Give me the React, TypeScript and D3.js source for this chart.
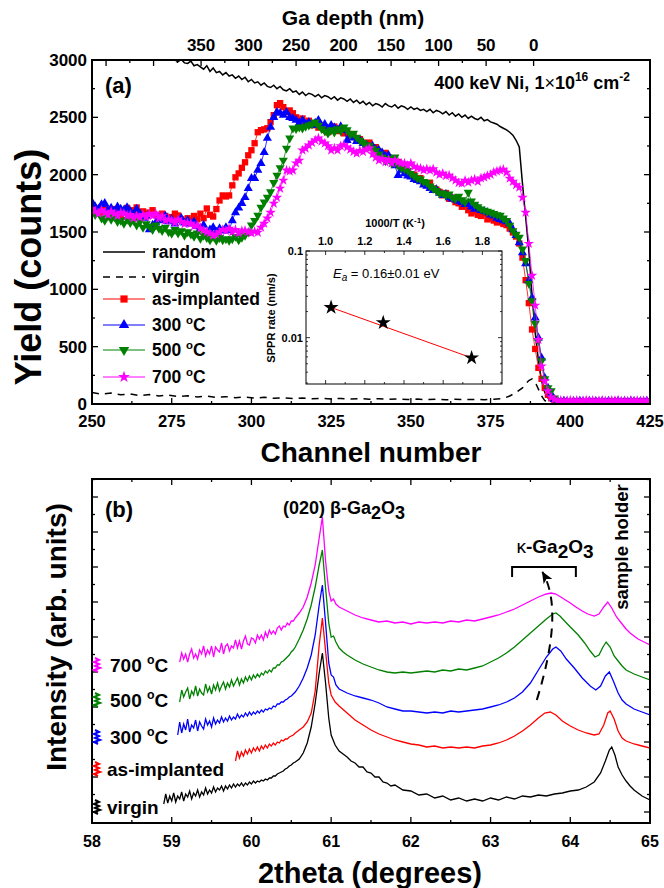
import React from "react";
import * as d3 from "d3";

const FONT = "'Liberation Sans', Arial, Helvetica, sans-serif";

// ---------------- Panel (a): RBS spectra ----------------
const CHANNEL_START = 250;
const channelTicks = [250, 275, 300, 325, 350, 375, 400, 425];
const yieldTicks = [0, 500, 1000, 1500, 2000, 2500, 3000];
const depthTicks = [0, 50, 100, 150, 200, 250, 300, 350];
const DEPTH_AT_250 = 464.8;
const DEPTH_AT_425 = -122.5;

const randomYield = [
  3180, 3170, 3160, 3170, 3150, 3140, 3150, 3130, 3120, 3130,
  3110, 3100, 3110, 3090, 3080, 3090, 3070, 3060, 3070, 3050,
  3040, 3050, 3030, 3020, 3030, 3010, 3000, 2985, 3005, 2975,
  2970, 2990, 2950, 2960, 2940, 2920, 2950, 2900, 2930, 2890,
  2900, 2870, 2890, 2860, 2870, 2840, 2860, 2830, 2850, 2810,
  2830, 2800, 2810, 2780, 2800, 2770, 2760, 2780, 2750, 2770,
  2740, 2730, 2750, 2720, 2730, 2700, 2720, 2690, 2710, 2700,
  2680, 2700, 2670, 2690, 2680, 2660, 2680, 2650, 2670, 2660,
  2640, 2660, 2630, 2650, 2620, 2640, 2610, 2630, 2600, 2620,
  2610, 2590, 2620, 2600, 2590, 2610, 2580, 2600, 2590, 2570,
  2590, 2570, 2580, 2560, 2570, 2550, 2570, 2540, 2560, 2550,
  2530, 2550, 2520, 2540, 2510, 2530, 2500, 2520, 2490, 2510,
  2490, 2480, 2500, 2470, 2480, 2460, 2450, 2440, 2420, 2405,
  2390, 2370, 2344, 2300, 2242, 1924, 1630, 1338, 950, 620,
  380, 200, 100, 52, 25, 12, 8, 6, 5, 5,
  5, 4, 5, 4, 5, 4, 5, 4, 5, 4,
  5, 4, 5, 4, 5, 4, 5, 4, 5, 4,
  5, 4, 5, 4, 5, 4,
];

const virginChannel = [
  250, 253, 256, 259, 262, 265, 268, 271, 274, 277, 280, 283, 286, 289, 292, 295, 298, 301, 304, 307,
  310, 313, 316, 319, 322, 325, 328, 331, 334, 337, 340, 343, 346, 349, 352, 355, 358, 361, 364, 367,
  370, 373, 376, 379, 381, 383, 385, 386, 387, 388, 389, 390, 391, 392, 394, 397, 400, 410, 425,
];
const virginYield = [
  100, 85, 95, 80, 88, 72, 82, 70, 78, 66, 72, 62, 68, 58, 64, 55, 60, 52, 58, 50,
  55, 48, 53, 46, 50, 44, 49, 43, 47, 42, 46, 40, 44, 39, 43, 38, 42, 37, 41, 38,
  40, 37, 42, 48, 70, 100, 140, 175, 205, 219, 190, 130, 70, 30, 10, 5, 4, 3, 3,
];

const asImplanted = [
  1720, 1690, 1700, 1670, 1710, 1680, 1660, 1700, 1690, 1650,
  1680, 1710, 1670, 1690, 1714, 1660, 1680, 1640, 1670, 1690,
  1650, 1620, 1660, 1640, 1600, 1630, 1660, 1644, 1610, 1590,
  1620, 1600, 1640, 1610, 1660, 1620, 1705, 1650, 1635, 1700,
  1775, 1819, 1810, 1819, 1907, 1977, 2011, 2060, 2108, 2169,
  2213, 2274, 2370, 2388, 2395, 2405, 2458, 2519, 2606, 2624,
  2589, 2545, 2560, 2536, 2500, 2470, 2490, 2450, 2470, 2431,
  2440, 2410, 2430, 2390, 2370, 2400, 2420, 2380, 2400, 2360,
  2370, 2330, 2340, 2300, 2310, 2280, 2260, 2280, 2230, 2240,
  2200, 2180, 2190, 2150, 2140, 2100, 2110, 2060, 2080, 2020,
  1990, 2000, 1960, 1970, 1920, 1910, 1930, 1880, 1870, 1850,
  1820, 1840, 1790, 1800, 1760, 1750, 1720, 1740, 1690, 1662,
  1680, 1650, 1640, 1660, 1610, 1620, 1600, 1583, 1590, 1570,
  1560, 1530, 1496, 1460, 1400, 1277, 1080, 880, 650, 480,
  315, 220, 140, 80, 50, 30, 22, 18, 25, 20,
  15, 22, 18, 25, 20, 16, 22, 18, 24, 20,
  17, 22, 19, 25, 18, 21, 16, 23, 19, 22,
  18, 24, 20, 17, 22, 19,
];

const annealed300 = [
  1760, 1720, 1700, 1740, 1750, 1690, 1710, 1680, 1720, 1700,
  1690, 1714, 1680, 1650, 1700, 1660, 1620, 1640, 1520, 1560,
  1580, 1620, 1600, 1640, 1590, 1610, 1570, 1600, 1620, 1580,
  1600, 1570, 1590, 1550, 1530, 1560, 1487, 1520, 1540, 1500,
  1530, 1510, 1540, 1513, 1600, 1670, 1710, 1750, 1801, 1880,
  1968, 1968, 2040, 2099, 2195, 2318, 2414, 2500, 2545, 2536,
  2519, 2545, 2500, 2490, 2475, 2450, 2475, 2440, 2458, 2430,
  2450, 2475, 2420, 2440, 2400, 2430, 2410, 2390, 2420, 2388,
  2300, 2340, 2320, 2290, 2300, 2274, 2260, 2240, 2250, 2220,
  2213, 2190, 2160, 2170, 2120, 2080, 1994, 2040, 2010, 1990,
  1980, 1960, 1950, 1940, 1910, 1900, 1880, 1863, 1870, 1840,
  1820, 1830, 1800, 1790, 1780, 1770, 1758, 1740, 1750, 1720,
  1700, 1710, 1688, 1680, 1670, 1650, 1640, 1620, 1610, 1600,
  1590, 1574, 1520, 1470, 1408, 1320, 1224, 1076, 927, 752,
  577, 402, 227, 140, 87, 40, 28, 20, 26, 22,
  18, 24, 20, 27, 22, 18, 25, 20, 23, 19,
  24, 20, 26, 18, 22, 25, 19, 23, 20, 26,
  21, 18, 24, 20, 25, 22,
];

const annealed500 = [
  1688, 1650, 1670, 1620, 1600, 1640, 1610, 1630, 1590, 1600,
  1574, 1610, 1580, 1600, 1560, 1590, 1539, 1570, 1550, 1520,
  1560, 1530, 1510, 1540, 1500, 1487, 1520, 1490, 1510, 1470,
  1500, 1480, 1460, 1490, 1443, 1470, 1450, 1430, 1460, 1425,
  1450, 1430, 1440, 1425, 1440, 1460, 1430, 1452, 1470, 1500,
  1560, 1600, 1644, 1714, 1760, 1801, 1850, 1930, 1994, 2060,
  2125, 2230, 2318, 2405, 2400, 2414, 2405, 2420, 2431, 2440,
  2458, 2430, 2400, 2380, 2361, 2390, 2370, 2400, 2380, 2414,
  2390, 2350, 2360, 2326, 2300, 2280, 2260, 2250, 2230, 2210,
  2180, 2152, 2120, 2140, 2100, 2152, 2080, 2060, 2050, 2038,
  2010, 1990, 1970, 1960, 1940, 1930, 1900, 1880, 1860, 1836,
  1840, 1820, 1830, 1800, 1790, 1810, 1780, 1760, 1845, 1770,
  1740, 1720, 1700, 1688, 1680, 1670, 1660, 1650, 1644, 1620,
  1600, 1557, 1510, 1480, 1452, 1350, 1250, 1050, 900, 700,
  551, 376, 219, 140, 114, 52, 25, 12, 8, 10,
  6, 9, 5, 8, 11, 6, 4, 9, 7, 5,
  8, 10, 6, 4, 9, 7, 5, 8, 6, 10,
  7, 5, 9, 6, 8, 5,
];

const annealed700 = [
  1705, 1680, 1660, 1690, 1670, 1650, 1680, 1660, 1640, 1670,
  1662, 1640, 1650, 1620, 1640, 1627, 1650, 1630, 1660, 1640,
  1662, 1620, 1640, 1600, 1610, 1600, 1580, 1610, 1590, 1570,
  1580, 1574, 1550, 1560, 1530, 1513, 1500, 1490, 1469, 1480,
  1500, 1520, 1510, 1531, 1500, 1520, 1490, 1510, 1513, 1500,
  1490, 1505, 1496, 1540, 1574, 1620, 1670, 1749, 1801, 1880,
  1950, 2038, 2030, 2038, 2100, 2125, 2213, 2230, 2256, 2280,
  2300, 2318, 2290, 2274, 2250, 2213, 2230, 2213, 2250, 2260,
  2239, 2220, 2200, 2186, 2210, 2200, 2220, 2230, 2180, 2150,
  2125, 2140, 2110, 2130, 2100, 2125, 2110, 2100, 2099, 2080,
  2099, 2070, 2060, 2055, 2040, 2050, 2038, 2050, 2020, 2000,
  2010, 1990, 1994, 1970, 1950, 1930, 1924, 1950, 1933, 1950,
  1960, 1940, 1970, 1977, 1990, 2000, 2020, 2030, 2038, 2045,
  2020, 1968, 1940, 1910, 1889, 1801, 1670, 1399, 1120, 860,
  560, 330, 200, 114, 60, 40, 26, 30, 24, 28,
  32, 26, 30, 24, 28, 33, 27, 30, 25, 29,
  31, 27, 24, 30, 28, 32, 26, 29, 25, 31,
  27, 30, 24, 28, 26, 30,
];

// Inset: Arrhenius plot
const inverseT = [1.028, 1.294, 1.745];
const spprRate = [0.0223, 0.0149, 0.00585];
const fitInverseT = [1.028, 1.745];
const fitRate = [0.0223, 0.00585];
const insetMajorX = [1.0, 1.2, 1.4, 1.6, 1.8];
const insetMinorX = [1.1, 1.3, 1.5, 1.7];
const insetMajorY = [0.01, 0.1];
const insetMinorY = [0.003, 0.004, 0.005, 0.006, 0.007, 0.008, 0.009, 0.02, 0.03, 0.04, 0.05, 0.06, 0.07, 0.08, 0.09];

// ---------------- Panel (b): XRD ----------------
const twoThetaTicks = [58, 59, 60, 61, 62, 63, 64, 65];
const intensityTicks = [11, 46, 81, 116, 151, 186, 221, 256, 291, 326];

const xrdVirgin: [number, number][] = [
  [58.900, 19], [58.925, 29], [58.950, 20], [58.975, 27], [59.000, 22], [59.025, 30], [59.050, 21], [59.075, 27], [59.100, 24], [59.125, 31],
  [59.150, 22], [59.175, 29], [59.200, 26], [59.225, 32], [59.250, 24], [59.275, 30], [59.300, 27], [59.325, 33], [59.350, 26], [59.375, 31],
  [59.400, 28], [59.425, 35], [59.450, 29], [59.475, 33], [59.500, 30], [59.525, 36], [59.550, 31], [59.575, 35], [59.600, 33], [59.625, 37],
  [59.650, 32], [59.675, 37], [59.700, 34], [59.725, 38], [59.750, 35], [59.775, 39], [59.800, 36], [59.825, 39], [59.850, 37], [59.875, 40],
  [59.900, 37], [59.925, 40], [59.950, 38], [59.975, 41], [60.000, 39], [60.025, 42], [60.050, 40], [60.075, 42], [60.100, 41], [60.125, 43],
  [60.150, 42], [60.175, 44], [60.200, 43], [60.225, 45], [60.250, 45], [60.275, 47], [60.300, 47], [60.325, 49], [60.350, 50], [60.375, 51],
  [60.400, 52], [60.425, 54], [60.450, 55], [60.475, 57], [60.500, 58], [60.525, 60], [60.550, 61],
  [60.60, 64], [60.65, 70], [60.70, 80], [60.75, 96], [60.80, 120], [60.85, 150], [60.89, 170], [60.93, 140], [60.97, 105], [61.00, 88],
  [61.05, 78], [61.10, 72], [61.15, 69], [61.20, 66], [61.25, 62], [61.30, 60], [61.35, 56], [61.40, 56], [61.45, 51], [61.50, 50],
  [61.55, 46], [61.60, 46], [61.65, 41], [61.70, 40], [61.75, 37], [61.80, 38], [61.90, 33], [62.00, 32], [62.10, 28], [62.20, 29],
  [62.30, 25], [62.40, 27], [62.50, 23], [62.60, 25], [62.70, 22], [62.80, 24], [62.90, 22], [63.00, 25], [63.10, 23], [63.20, 26],
  [63.30, 24], [63.40, 27], [63.50, 26], [63.60, 28], [63.70, 27], [63.80, 29], [63.90, 30], [64.00, 32], [64.10, 33], [64.20, 36],
  [64.30, 41], [64.38, 50], [64.44, 62], [64.49, 73], [64.52, 76], [64.56, 68], [64.60, 56], [64.65, 48], [64.70, 42], [64.75, 37],
  [64.80, 33], [64.85, 30], [64.90, 27], [64.95, 25], [65.00, 23],
];

const xrdAsImplanted: [number, number][] = [
  [59.800, 62], [59.825, 72], [59.850, 65], [59.875, 71], [59.900, 67], [59.925, 73], [59.950, 69], [59.975, 74], [60.000, 70], [60.025, 75],
  [60.050, 72], [60.075, 76], [60.100, 72], [60.125, 77], [60.150, 74], [60.175, 78], [60.200, 75], [60.225, 79], [60.250, 77], [60.275, 80],
  [60.300, 78], [60.325, 81], [60.350, 80], [60.375, 83], [60.400, 82], [60.425, 84], [60.450, 84], [60.475, 86], [60.500, 87], [60.525, 88],
  [60.550, 90],
  [60.60, 93], [60.65, 96], [60.70, 101], [60.75, 110], [60.80, 132], [60.85, 178], [60.89, 205], [60.93, 172], [60.97, 140], [61.00, 128],
  [61.05, 121], [61.10, 117], [61.20, 110], [61.30, 103], [61.40, 98], [61.50, 93], [61.60, 89], [61.70, 86], [61.80, 83], [61.90, 81],
  [62.00, 79], [62.10, 78], [62.20, 76], [62.30, 77], [62.40, 75], [62.50, 76], [62.60, 75], [62.70, 76], [62.80, 75], [62.90, 77],
  [63.00, 78], [63.10, 80], [63.20, 83], [63.30, 87], [63.40, 92], [63.50, 98], [63.60, 105], [63.68, 110], [63.75, 111], [63.82, 108],
  [63.90, 102], [64.00, 97], [64.10, 93], [64.20, 90], [64.30, 88], [64.36, 89], [64.42, 98], [64.47, 110], [64.50, 112], [64.55, 104],
  [64.60, 92], [64.65, 85], [64.70, 82], [64.80, 79], [64.90, 77], [65.00, 75],
];

const xrd300: [number, number][] = [
  [59.075, 88], [59.100, 101], [59.125, 90], [59.150, 99], [59.175, 93], [59.200, 104], [59.225, 91], [59.250, 98], [59.275, 95], [59.300, 103],
  [59.325, 92], [59.350, 101], [59.375, 97], [59.400, 94], [59.425, 104], [59.450, 98], [59.475, 102], [59.500, 96], [59.525, 105], [59.550, 99],
  [59.575, 103], [59.600, 100], [59.625, 106], [59.650, 101], [59.675, 105], [59.700, 102], [59.725, 107], [59.750, 103], [59.775, 106], [59.800, 104],
  [59.825, 109], [59.850, 105], [59.875, 108], [59.900, 106], [59.925, 110], [59.950, 107], [59.975, 111], [60.000, 108], [60.025, 111], [60.050, 109],
  [60.075, 112], [60.100, 110], [60.125, 113], [60.150, 111], [60.175, 114], [60.200, 113], [60.225, 115], [60.250, 114], [60.275, 117], [60.300, 116],
  [60.325, 119], [60.350, 119], [60.375, 121], [60.400, 121], [60.425, 123], [60.450, 124], [60.475, 126], [60.500, 127], [60.525, 129], [60.550, 131],
  [60.60, 137], [60.65, 145], [60.70, 155], [60.75, 168], [60.80, 188], [60.85, 218], [60.89, 238], [60.93, 200], [60.97, 160], [61.00, 148],
  [61.03, 146], [61.06, 138], [61.10, 134], [61.20, 130], [61.30, 127], [61.40, 125], [61.50, 123], [61.60, 120], [61.70, 116], [61.80, 114],
  [61.90, 112], [62.00, 112], [62.10, 111], [62.20, 110], [62.30, 111], [62.40, 110], [62.50, 112], [62.60, 111], [62.70, 112], [62.80, 113],
  [62.90, 114], [63.00, 116], [63.10, 118], [63.20, 121], [63.30, 125], [63.40, 131], [63.50, 140], [63.60, 153], [63.70, 166], [63.78, 174],
  [63.82, 176], [63.88, 172], [63.95, 164], [64.05, 155], [64.15, 145], [64.25, 137], [64.32, 133], [64.38, 137], [64.44, 147], [64.49, 151],
  [64.54, 142], [64.60, 130], [64.65, 123], [64.70, 119], [64.80, 114], [64.90, 111], [65.00, 108],
];

const xrd500: [number, number][] = [
  [59.100, 121], [59.125, 133], [59.150, 126], [59.175, 131], [59.200, 135], [59.225, 124], [59.250, 132], [59.275, 128], [59.300, 137], [59.325, 127],
  [59.350, 134], [59.375, 130], [59.400, 128], [59.425, 139], [59.450, 131], [59.475, 136], [59.500, 129], [59.525, 138], [59.550, 133], [59.575, 140],
  [59.600, 132], [59.625, 137], [59.650, 141], [59.675, 134], [59.700, 140], [59.725, 136], [59.750, 143], [59.775, 137], [59.800, 141], [59.825, 145],
  [59.850, 138], [59.875, 144], [59.900, 140], [59.925, 146], [59.950, 142], [59.975, 147], [60.000, 143], [60.025, 148], [60.050, 145], [60.075, 149],
  [60.100, 146], [60.125, 150], [60.150, 148], [60.175, 152], [60.200, 150], [60.225, 153], [60.250, 151], [60.275, 155], [60.300, 155], [60.325, 158],
  [60.350, 158], [60.375, 161], [60.400, 162], [60.425, 164], [60.450, 166], [60.475, 168], [60.500, 171], [60.525, 173], [60.550, 176],
  [60.60, 184], [60.65, 193], [60.70, 204], [60.75, 218], [60.80, 236], [60.85, 258], [60.89, 273], [60.93, 235], [60.97, 200], [61.00, 186],
  [61.03, 187], [61.06, 181], [61.10, 175], [61.15, 171], [61.20, 168], [61.30, 163], [61.40, 159], [61.50, 156], [61.60, 153], [61.70, 151],
  [61.80, 150], [61.90, 151], [62.00, 150], [62.10, 151], [62.20, 152], [62.30, 151], [62.40, 153], [62.50, 152], [62.60, 154], [62.70, 153],
  [62.80, 155], [62.90, 157], [63.00, 161], [63.10, 165], [63.20, 170], [63.30, 176], [63.40, 183], [63.50, 190], [63.60, 197], [63.70, 204],
  [63.78, 209], [63.82, 210], [63.87, 207], [63.94, 201], [64.00, 196], [64.10, 188], [64.18, 180], [64.25, 172], [64.31, 166], [64.36, 168],
  [64.41, 176], [64.45, 181], [64.50, 176], [64.55, 167], [64.60, 162], [64.65, 157], [64.70, 153], [64.80, 149], [64.90, 146], [65.00, 143],
];

const xrd700: [number, number][] = [
  [59.100, 161], [59.125, 170], [59.150, 164], [59.175, 169], [59.200, 161], [59.225, 169], [59.250, 174], [59.275, 165], [59.300, 169], [59.325, 164],
  [59.350, 173], [59.375, 169], [59.400, 177], [59.425, 167], [59.450, 173], [59.475, 169], [59.500, 177], [59.525, 166], [59.550, 176], [59.575, 173],
  [59.600, 171], [59.625, 180], [59.650, 169], [59.675, 177], [59.700, 179], [59.725, 172], [59.750, 177], [59.775, 175], [59.800, 183], [59.825, 175],
  [59.850, 182], [59.875, 174], [59.900, 182], [59.925, 187], [59.950, 179], [59.975, 178], [60.000, 185], [60.025, 184], [60.050, 180], [60.075, 188],
  [60.100, 184], [60.125, 188], [60.150, 183], [60.175, 191], [60.200, 186], [60.225, 193], [60.250, 189], [60.275, 192], [60.300, 189], [60.325, 195],
  [60.350, 197], [60.375, 193], [60.400, 197], [60.425, 196], [60.450, 200], [60.475, 198], [60.500, 202], [60.525, 202], [60.550, 205],
  [60.60, 210], [60.65, 216], [60.70, 226], [60.75, 240], [60.80, 258], [60.85, 285], [60.89, 306], [60.93, 262], [60.97, 232], [61.00, 222],
  [61.03, 224], [61.06, 219], [61.10, 216], [61.15, 214], [61.20, 212], [61.30, 208], [61.40, 205], [61.50, 203], [61.60, 201], [61.70, 202],
  [61.80, 200], [61.90, 201], [62.00, 199], [62.10, 201], [62.20, 200], [62.30, 201], [62.40, 200], [62.50, 202], [62.60, 201], [62.70, 203],
  [62.80, 202], [62.90, 204], [63.00, 206], [63.10, 208], [63.20, 211], [63.30, 214], [63.40, 218], [63.50, 222], [63.60, 226], [63.70, 229],
  [63.76, 230], [63.82, 229], [63.90, 225], [64.00, 220], [64.07, 216], [64.15, 212], [64.22, 209], [64.30, 207], [64.36, 209], [64.42, 216],
  [64.47, 221], [64.52, 215], [64.58, 206], [64.65, 199], [64.70, 194], [64.75, 190], [64.80, 187], [64.85, 184], [64.90, 182], [64.95, 180],
  [65.00, 178],
];

// annotation positions in data units of panel (b)
const arrowPath: [number, number][] = [[63.58, 123], [63.93, 213], [63.65, 251]];
const bracketX = [63.27, 64.07];
const bracketY = [246, 256];

const RED = "#ff0000";
const BLUE = "#0000ff";
const GREEN = "#008000";
const MAGENTA = "#ff00ff";

function Deg({ label, size }: { label: string; size: number }) {
  return (
    <>
      {label + " "}
      <tspan dy={-size * 0.4} fontSize={size * 0.65}>o</tspan>
      <tspan dy={size * 0.4}>C</tspan>
    </>
  );
}

export default function App() {
  const xA = d3.scaleLinear().domain([250, 425]).range([92, 650]);
  const yA = d3.scaleLinear().domain([0, 3000]).range([404, 60]);
  const xDepth = d3.scaleLinear().domain([DEPTH_AT_250, DEPTH_AT_425]).range([92, 650]);
  const lineIdx = d3
    .line<number>()
    .x((_, i) => xA(CHANNEL_START + i))
    .y((d) => yA(d));
  const virginLine = d3
    .line<number>()
    .x((_, i) => xA(virginChannel[i]))
    .y((d) => yA(d));

  const xI = d3.scaleLinear().domain([0.9, 1.9]).range([306, 502]);
  const yI = d3.scaleLog().domain([0.00292, 0.1]).range([384, 251]);

  const xB = d3.scaleLinear().domain([58, 65]).range([92, 650]);
  const yB = d3.scaleLinear().domain([0, 344]).range([823, 479]);
  const lineB = d3
    .line<[number, number]>()
    .x((d) => xB(d[0]))
    .y((d) => yB(d[1]));

  const series = [
    { name: "as-implanted", values: asImplanted, color: RED, sym: d3.symbolSquare, size: 40, rot: 0 },
    { name: "300", values: annealed300, color: BLUE, sym: d3.symbolTriangle, size: 36, rot: 0 },
    { name: "500", values: annealed500, color: GREEN, sym: d3.symbolTriangle, size: 36, rot: 180 },
    { name: "700", values: annealed700, color: MAGENTA, sym: d3.symbolStar, size: 34, rot: 0 },
  ];

  const chMinor = d3.range(250, 425.01, 12.5);
  const yMinorA = d3.range(0, 3001, 250);
  const depthAll = d3.range(0, 451, 25);
  const bMinorX = d3.range(58, 65.01, 0.5);
  const bMinorY = d3.range(intensityTicks[0], 344, (intensityTicks[1] - intensityTicks[0]) / 2);

  const arrow = d3.path();
  arrow.moveTo(xB(arrowPath[0][0]), yB(arrowPath[0][1]));
  arrow.quadraticCurveTo(xB(arrowPath[1][0]), yB(arrowPath[1][1]), xB(arrowPath[2][0]), yB(arrowPath[2][1]));

  const legA = [
    { y: 252, kind: "solid", label: "random" },
    { y: 277, kind: "dash", label: "virgin" },
  ];
  const legMarkers = [
    { y: 299, s: series[0], label: "as-implanted" },
    { y: 325, s: series[1], label: "300" },
    { y: 350, s: series[2], label: "500" },
    { y: 377, s: series[3], label: "700" },
  ];

  const legB = [
    { y: 665, color: MAGENTA, label: "700", deg: true, x: 110 },
    { y: 700, color: GREEN, label: "500", deg: true, x: 110 },
    { y: 737, color: BLUE, label: "300", deg: true, x: 110 },
    { y: 769, color: RED, label: "as-implanted", deg: false, x: 107 },
    { y: 807, color: "#000", label: "virgin", deg: false, x: 107 },
  ];

  return (
    <svg
      width={664}
      height={888}
      style={{ position: "absolute", left: 0, top: 0, background: "#fff" }}
      fontFamily={FONT}
    >
      <defs>
        <clipPath id="clipA">
          <rect x={92} y={60} width={558} height={344} />
        </clipPath>
        <clipPath id="clipB">
          <rect x={92} y={479} width={558} height={344} />
        </clipPath>
        <marker id="arrowHead" viewBox="0 0 12 10" refX={11} refY={5} markerWidth={12} markerHeight={10} markerUnits="userSpaceOnUse" orient="auto">
          <path d="M0,0 L12,5 L0,10 L3,5 Z" fill="#000" />
        </marker>
      </defs>

      {/* ================= Panel (a) ================= */}
      <text x={353} y={25} textAnchor="middle" fontSize={21} fontWeight="bold">Ga depth (nm)</text>
      {depthTicks.map((d) => (
        <text key={"dt" + d} x={xDepth(d)} y={51} textAnchor="middle" fontSize={17} fontWeight="bold">{d}</text>
      ))}
      {depthAll.map((d) => (
        <line key={"dtk" + d} x1={xDepth(d)} x2={xDepth(d)} y1={60} y2={60 + (d % 50 === 0 ? 6 : 3)} stroke="#000" strokeWidth={1.3} />
      ))}
      {chMinor.map((c) => (
        <line key={"ctk" + c} x1={xA(c)} x2={xA(c)} y1={404} y2={404 - (c % 25 === 0 ? 6 : 3)} stroke="#000" strokeWidth={1.3} />
      ))}
      {yMinorA.map((v) => (
        <g key={"ytk" + v}>
          <line x1={92} x2={92 + (v % 500 === 0 ? 6 : 3)} y1={yA(v)} y2={yA(v)} stroke="#000" strokeWidth={1.3} />
          <line x1={650} x2={650 - (v % 500 === 0 ? 6 : 3)} y1={yA(v)} y2={yA(v)} stroke="#000" strokeWidth={1.3} />
        </g>
      ))}
      {yieldTicks.map((v) => (
        <text key={"yl" + v} x={87} y={yA(v) + 6} textAnchor="end" fontSize={17} fontWeight="bold">{v}</text>
      ))}
      {channelTicks.map((c) => (
        <text key={"cl" + c} x={xA(c)} y={427} textAnchor="middle" fontSize={16.5} fontWeight="bold">{c}</text>
      ))}
      <text x={371} y={462} textAnchor="middle" fontSize={28} fontWeight="bold">Channel number</text>
      <text transform="translate(28,267) rotate(-90)" textAnchor="middle" dominantBaseline="central" fontSize={36} fontWeight="bold">Yield (counts)</text>

      <g clipPath="url(#clipA)">
        <path d={lineIdx(randomYield) || ""} fill="none" stroke="#000" strokeWidth={1.5} />
        <path d={virginLine(virginYield) || ""} fill="none" stroke="#000" strokeWidth={1.5} strokeDasharray="7 6" />
        {series.map((s) => (
          <g key={s.name}>
            <path d={lineIdx(s.values) || ""} fill="none" stroke={s.color} strokeWidth={0.8} />
            {s.values.map((v, i) => (
              <path
                key={i}
                d={d3.symbol().type(s.sym).size(s.size)() || ""}
                transform={`translate(${xA(CHANNEL_START + i)},${yA(v)}) rotate(${s.rot})`}
                fill={s.color}
              />
            ))}
          </g>
        ))}
      </g>
      <rect x={92} y={60} width={558} height={344} fill="none" stroke="#000" strokeWidth={2} />

      <text x={105} y={93} fontSize={22} fontWeight="bold">(a)</text>
      <text x={630} y={89} textAnchor="end" fontSize={18} fontWeight="bold">
        400 keV Ni, 1<tspan fontWeight="normal">×</tspan>10<tspan dy={-8} fontSize={12}>16</tspan>
        <tspan dy={8}> cm</tspan><tspan dy={-8} fontSize={12}>-2</tspan>
      </text>

      {legA.map((l) => (
        <g key={l.label}>
          <line x1={103} x2={145} y1={l.y} y2={l.y} stroke="#000" strokeWidth={1.5} strokeDasharray={l.kind === "dash" ? "7 6" : undefined} />
          <text x={152} y={l.y + 6} fontSize={17.5} fontWeight="bold">{l.label}</text>
        </g>
      ))}
      {legMarkers.map((l) => (
        <g key={l.label}>
          <line x1={103} x2={145} y1={l.y} y2={l.y} stroke={l.s.color} strokeWidth={1} />
          <path d={d3.symbol().type(l.s.sym).size(l.s.size * 1.3)() || ""} transform={`translate(124,${l.y}) rotate(${l.s.rot})`} fill={l.s.color} />
          <text x={152} y={l.y + 6} fontSize={17.5} fontWeight="bold">
            {l.label === "as-implanted" ? l.label : <Deg label={l.label} size={17.5} />}
          </text>
        </g>
      ))}

      {/* inset */}
      <rect x={306} y={251} width={196} height={133} fill="#fff" stroke="#000" strokeWidth={1} />
      {insetMajorX.concat(insetMinorX).map((v) => {
        const len = insetMajorX.includes(v) ? 4 : 2;
        return (
          <g key={"ix" + v}>
            <line x1={xI(v)} x2={xI(v)} y1={251} y2={251 + len} stroke="#000" strokeWidth={0.8} />
            <line x1={xI(v)} x2={xI(v)} y1={384} y2={384 - len} stroke="#000" strokeWidth={0.8} />
          </g>
        );
      })}
      {insetMajorY.concat(insetMinorY).map((v) => {
        const len = insetMajorY.includes(v) ? 4 : 2;
        return (
          <g key={"iy" + v}>
            <line x1={306} x2={306 + len} y1={yI(v)} y2={yI(v)} stroke="#000" strokeWidth={0.8} />
            <line x1={502} x2={502 - len} y1={yI(v)} y2={yI(v)} stroke="#000" strokeWidth={0.8} />
          </g>
        );
      })}
      {insetMajorX.map((v) => (
        <text key={"ixl" + v} x={xI(v)} y={245} textAnchor="middle" fontSize={11} fontWeight="bold">{v.toFixed(1)}</text>
      ))}
      {insetMajorY.map((v) => (
        <text key={"iyl" + v} x={303} y={yI(v) + 4} textAnchor="end" fontSize={11} fontWeight="bold">{v}</text>
      ))}
      <text x={395} y={227} textAnchor="middle" fontSize={11} fontWeight="bold">
        1000/T (K<tspan dy={-4} fontSize={8}>-1</tspan><tspan dy={4}>)</tspan>
      </text>
      <text transform="translate(271,318) rotate(-90)" textAnchor="middle" dominantBaseline="central" fontSize={11} fontWeight="bold">SPPR rate (nm/s)</text>
      <text x={333} y={278} fontSize={13}>
        <tspan fontStyle="italic">E</tspan><tspan fontStyle="italic" fontSize={10} dy={3}>a</tspan><tspan dy={-3}> = 0.16±0.01 eV</tspan>
      </text>
      <line x1={xI(fitInverseT[0])} y1={yI(fitRate[0])} x2={xI(fitInverseT[1])} y2={yI(fitRate[1])} stroke={RED} strokeWidth={1} />
      {inverseT.map((t, i) => (
        <path key={"st" + i} d={d3.symbol().type(d3.symbolStar).size(70)() || ""} transform={`translate(${xI(t)},${yI(spprRate[i])})`} fill="#000" />
      ))}

      {/* ================= Panel (b) ================= */}
      {bMinorX.map((v) => {
        const len = Number.isInteger(v) ? 6 : 3;
        return (
          <g key={"bx" + v}>
            <line x1={xB(v)} x2={xB(v)} y1={823} y2={823 - len} stroke="#000" strokeWidth={1.3} />
            <line x1={xB(v)} x2={xB(v)} y1={479} y2={479 + len} stroke="#000" strokeWidth={1.3} />
          </g>
        );
      })}
      {bMinorY.map((v, i) => {
        const len = i % 2 === 0 ? 6 : 3;
        return (
          <g key={"by" + v}>
            <line x1={92} x2={92 + len} y1={yB(v)} y2={yB(v)} stroke="#000" strokeWidth={1.3} />
            <line x1={650} x2={650 - len} y1={yB(v)} y2={yB(v)} stroke="#000" strokeWidth={1.3} />
          </g>
        );
      })}
      {twoThetaTicks.map((v) => (
        <text key={"bxl" + v} x={xB(v)} y={847} textAnchor="middle" fontSize={16} fontWeight="bold">{v}</text>
      ))}
      <text x={370} y={883} textAnchor="middle" fontSize={29} fontWeight="bold">2theta (degrees)</text>
      <text transform="translate(56,637) rotate(-90)" textAnchor="middle" dominantBaseline="central" fontSize={28} fontWeight="bold">Intensity (arb. units)</text>

      <g clipPath="url(#clipB)">
        <path d={lineB(xrdVirgin) || ""} fill="none" stroke="#000" strokeWidth={1.3} />
        <path d={lineB(xrdAsImplanted) || ""} fill="none" stroke={RED} strokeWidth={1.3} />
        <path d={lineB(xrd300) || ""} fill="none" stroke={BLUE} strokeWidth={1.3} />
        <path d={lineB(xrd500) || ""} fill="none" stroke={GREEN} strokeWidth={1.3} />
        <path d={lineB(xrd700) || ""} fill="none" stroke={MAGENTA} strokeWidth={1.3} />
      </g>
      <rect x={92} y={479} width={558} height={344} fill="none" stroke="#000" strokeWidth={2} />

      <text x={105} y={517} fontSize={22} fontWeight="bold">(b)</text>
      <text x={283} y={514} fontSize={18} fontWeight="bold">
        (020) β-Ga<tspan dy={5}>2</tspan><tspan dy={-5}>O</tspan><tspan dy={5}>3</tspan>
      </text>
      <text x={555} y={553} textAnchor="middle" fontSize={19} fontWeight="bold">
        <tspan fontWeight="normal">κ</tspan>-Ga<tspan dy={5}>2</tspan><tspan dy={-5}>O</tspan><tspan dy={5}>3</tspan>
      </text>
      <path
        d={`M${xB(bracketX[0])},${yB(bracketY[0])} L${xB(bracketX[0])},${yB(bracketY[1])} L${xB(bracketX[1])},${yB(bracketY[1])} L${xB(bracketX[1])},${yB(bracketY[0])}`}
        fill="none"
        stroke="#000"
        strokeWidth={2}
      />
      <path d={arrow.toString()} fill="none" stroke="#000" strokeWidth={2} strokeDasharray="9 7" markerEnd="url(#arrowHead)" />
      <text transform="translate(621,547) rotate(-90)" textAnchor="middle" dominantBaseline="central" fontSize={18.5} fontWeight="bold">sample holder</text>

      {legB.map((l) => (
        <g key={l.label}>
          <path
            d={`M95,${l.y - 7} L99,${l.y - 5} L94,${l.y - 3} L99,${l.y - 1} L95,${l.y + 1} L100,${l.y + 3} L94,${l.y + 5} L98,${l.y + 7}`}
            fill="none"
            stroke={l.color}
            strokeWidth={2}
          />
          <text x={l.x} y={l.y + 7} fontSize={19} fontWeight="bold">
            {l.deg ? <Deg label={l.label} size={19} /> : l.label}
          </text>
        </g>
      ))}
    </svg>
  );
}
